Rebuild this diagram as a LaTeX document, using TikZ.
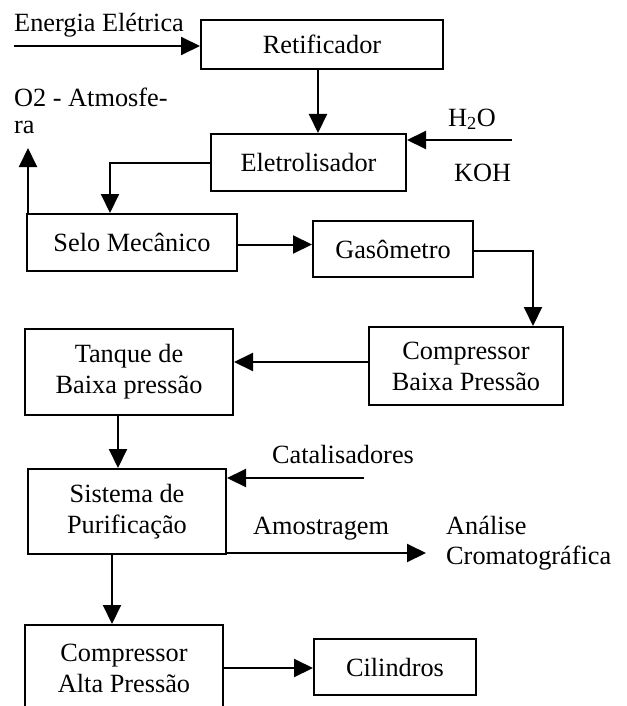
\documentclass[tikz,border=0pt]{standalone}
\usepackage{fontspec}
\setmainfont{Liberation Serif}
\usetikzlibrary{arrows.meta}
\begin{document}
\begin{tikzpicture}[x=1pt,y=-1pt,
  every node/.style={font=\fontsize{26.3}{31}\selectfont},
  box/.style={draw,line width=2pt,align=center,inner sep=0pt},
  lbl/.style={inner sep=0pt,anchor=base west,align=left},
  arr/.style={line width=2pt,-{Triangle[length=19pt,width=18pt]}},
  ln/.style={line width=2pt}]
\useasboundingbox (0,0) rectangle (626,706);
\clip (0,0) rectangle (626,706);
% boxes
\node[box,minimum width=242pt,minimum height=49pt] (ret) at (322,44.5) {Retificador};
\node[box,minimum width=195pt,minimum height=57pt] (ele) at (308.5,162.5) {Eletrolisador};
\node[box,minimum width=210pt,minimum height=57pt] (selo) at (132,242.5) {Selo Mecânico};
\node[box,minimum width=160pt,minimum height=56pt] (gas) at (393,249) {Gasômetro};
\node[box,minimum width=194pt,minimum height=78pt] (cbp) at (466,366) {Compressor\\Baixa Pressão};
\node[box,minimum width=208pt,minimum height=86pt] (tanque) at (129,372) {Tanque de\\Baixa pressão};
\node[box,minimum width=198pt,minimum height=85pt] (sist) at (127,511.5) {Sistema de\\Purificação};
\node[box,minimum width=198pt,minimum height=86pt] (cap) at (124,668) {Compressor\\Alta Pressão};
\node[box,minimum width=162pt,minimum height=56pt] (cil) at (395,667) {Cilindros};
% labels
\node[lbl] (energia) at (14,32) {Energia Elétrica};
\node[lbl] (o2) at (14,133) {O2 - Atmosfe-\\[-4pt]ra};
\node[lbl] (h2o) at (448,126) {H\textsubscript{2}O};
\node[lbl] (koh) at (454,181) {KOH};
\node[lbl] (cat) at (272,463) {Catalisadores};
\node[lbl] (amo) at (253,534) {Amostragem};
\node[lbl] (ana) at (446,564) {Análise\\[-1pt]Cromatográfica};
% free ends
\coordinate (ein) at (14,46);
\coordinate (hin) at (512,140);
\coordinate (o2tip) at (28,148);
\coordinate (cin) at (364,478);
\coordinate (aout) at (426,553);
% connectors
\draw[arr] (ein) -- (ein -| ret.west);
\draw[arr] ([xshift=-4pt]ret.south) -- ([xshift=-4pt]ret.south |- ele.north);
\draw[arr] (hin) -- (hin -| ele.east);
\draw[arr] (ele.west) -| ([xshift=-22pt]selo.north);
\draw[arr] (selo.north west -| o2tip) -- (o2tip);
\draw[arr] ([yshift=-2pt]selo.east) -- ([yshift=-2pt]selo.east -| gas.west);
\draw[arr] ([yshift=-2pt]gas.east) -| ([xshift=67pt]cbp.north);
\draw[arr] ([yshift=4pt]cbp.west) -- ([yshift=4pt]cbp.west -| tanque.east);
\draw[arr] ([xshift=-11pt]tanque.south) -- ([xshift=-11pt]tanque.south |- sist.north);
\draw[arr] (cin) -- (cin -| sist.east);
\draw[arr] (aout -| sist.east) -- (aout);
\draw[arr] ([xshift=-15pt]sist.south) -- ([xshift=-15pt]sist.south |- cap.north);
\draw[arr] (cap.east) -- (cap.east -| cil.west);
\end{tikzpicture}
\end{document}
